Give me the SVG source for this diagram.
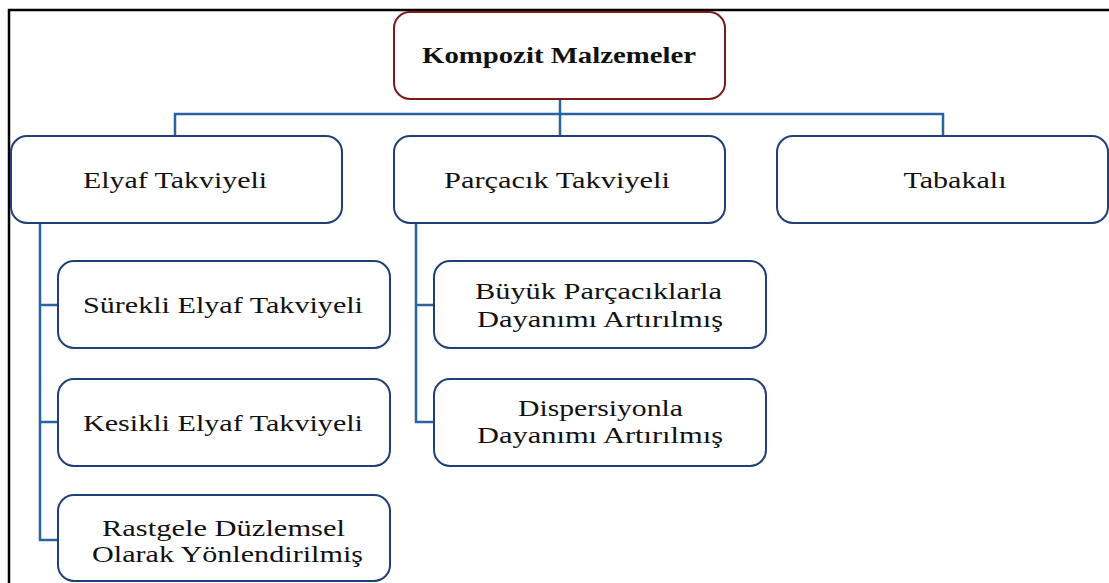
<svg xmlns="http://www.w3.org/2000/svg" width="1109" height="583" viewBox="0 0 1109 583">
<style>
.box{fill:#fff;stroke:#1f3f78;stroke-width:2}
.root{fill:#fff;stroke:#7f1a1a;stroke-width:2}
.t{font-family:"Liberation Serif","Times New Roman",serif;font-size:23px;fill:#111;text-anchor:middle}
.rt{font-family:"Liberation Serif","Times New Roman",serif;font-size:24px;font-weight:bold;fill:#111;text-anchor:middle}
.c{fill:none;stroke:#2a63a0;stroke-width:2.5}
</style>
<rect x="0" y="0" width="1109" height="583" fill="#fff"/>
<g id="frame" fill="none" stroke="#000" stroke-width="2.5">
<path d="M9,583 V10 H1109"/>
</g>
<g id="connectors">
<path class="c" d="M560,99 V136"/>
<path class="c" d="M175,136 V114 H943 V136"/>
<path class="c" d="M40,223 V540 H58"/>
<path class="c" d="M40,305 H58"/>
<path class="c" d="M40,422 H58"/>
<path class="c" d="M416,224 V422 H434"/>
<path class="c" d="M416,305 H434"/>
</g>
<g id="root">
<rect class="root" x="394" y="12" width="331" height="87" rx="16"/>
<text class="rt" x="559" y="63" textLength="274" lengthAdjust="spacingAndGlyphs">Kompozit Malzemeler</text>
</g>
<g id="elyaf">
<rect class="box" x="11" y="136" width="331" height="87" rx="16"/>
<text class="t" x="175" y="188" textLength="184" lengthAdjust="spacingAndGlyphs">Elyaf Takviyeli</text>
</g>
<g id="parcacik">
<rect class="box" x="394" y="136" width="331" height="87" rx="16"/>
<text class="t" x="557" y="188" textLength="226" lengthAdjust="spacingAndGlyphs">Parçacık Takviyeli</text>
</g>
<g id="tabakali">
<rect class="box" x="777" y="136" width="331" height="87" rx="16"/>
<text class="t" x="955" y="188" textLength="103" lengthAdjust="spacingAndGlyphs">Tabakalı</text>
</g>
<g id="surekli">
<rect class="box" x="58" y="261" width="332" height="87" rx="16"/>
<text class="t" x="223" y="313" textLength="280" lengthAdjust="spacingAndGlyphs">Sürekli Elyaf Takviyeli</text>
</g>
<g id="kesikli">
<rect class="box" x="58" y="379" width="332" height="87" rx="16"/>
<text class="t" x="223" y="431" textLength="280" lengthAdjust="spacingAndGlyphs">Kesikli Elyaf Takviyeli</text>
</g>
<g id="rastgele">
<rect class="box" x="58" y="495" width="332" height="86" rx="16"/>
<text class="t" x="223.5" y="536" textLength="243" lengthAdjust="spacingAndGlyphs">Rastgele Düzlemsel</text>
<text class="t" x="227.5" y="562" textLength="271" lengthAdjust="spacingAndGlyphs">Olarak Yönlendirilmiş</text>
</g>
<g id="buyuk">
<rect class="box" x="434" y="261" width="332" height="87" rx="16"/>
<text class="t" x="598.5" y="299" textLength="247" lengthAdjust="spacingAndGlyphs">Büyük Parçacıklarla</text>
<text class="t" x="600" y="327" textLength="246" lengthAdjust="spacingAndGlyphs">Dayanımı Artırılmış</text>
</g>
<g id="dispersiyon">
<rect class="box" x="434" y="379" width="332" height="87" rx="16"/>
<text class="t" x="600.5" y="416" textLength="165" lengthAdjust="spacingAndGlyphs">Dispersiyonla</text>
<text class="t" x="600" y="443" textLength="246" lengthAdjust="spacingAndGlyphs">Dayanımı Artırılmış</text>
</g>
</svg>
